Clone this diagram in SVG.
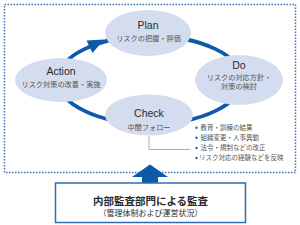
<svg xmlns="http://www.w3.org/2000/svg" width="300" height="225" viewBox="0 0 300 225">
<style>
.node{fill:#d4dcef;}
.t{font-family:"Liberation Sans","Noto Sans CJK JP",sans-serif;fill:#2b2b2b;text-anchor:middle;}
.title{font-size:10.5px;}
.sub{font-size:7.2px;fill:#555;}
.bl{font-family:"Liberation Sans","Noto Sans CJK JP",sans-serif;font-size:6.5px;fill:#555;}
.dot{fill:#2a64ad;}
</style>
<rect x="4.5" y="4.5" width="291" height="168" fill="#fff" stroke="#3d76b3" stroke-width="1.5" stroke-dasharray="1.5 1.5"/>
<g id="connectors">
<ellipse cx="150" cy="80" rx="92" ry="44" fill="none" stroke="#0c5aa8" stroke-width="3.8"/>
<polygon points="104,39.5 86.5,40.5 92.5,53" fill="#0c5aa8"/>
<polyline points="149,136 149,149.5 190,149.5" fill="none" stroke="#9fb3c8" stroke-width="1"/>
<path d="M142,183 V177 H132 L150,164.5 L168,177 H158 V183 Z" fill="#0c5aa8"/>
</g>
<g id="plan">
<ellipse class="node" cx="148" cy="33" rx="43" ry="23"/>
<text class="t title" x="148" y="29">Plan</text>
<text class="t sub" x="148.5" y="41">リスクの把握・評価</text>
</g>
<g id="action">
<ellipse class="node" cx="61" cy="80" rx="46" ry="22"/>
<text class="t title" x="61" y="75">Action</text>
<text class="t sub" x="61" y="86.5">リスク対策の改善・実施</text>
</g>
<g id="do">
<ellipse class="node" cx="239" cy="80" rx="44" ry="25"/>
<text class="t title" x="239" y="69">Do</text>
<text class="t sub" x="239" y="80">リスクの対応方針・</text>
<text class="t sub" x="239" y="88.5">対策の検討</text>
</g>
<g id="check">
<ellipse class="node" cx="149" cy="115" rx="44" ry="20.5"/>
<text class="t title" x="149" y="117">Check</text>
<text class="t sub" x="149" y="129.5">中間フォロー</text>
</g>
<g id="bullets">
<circle class="dot" cx="196.5" cy="127.8" r="1.2"/>
<text class="bl" x="200.5" y="130">教育・訓練の結果</text>
<circle class="dot" cx="196.5" cy="137.8" r="1.2"/>
<text class="bl" x="200.5" y="140">組織変更・人事異動</text>
<circle class="dot" cx="196.5" cy="148" r="1.2"/>
<text class="bl" x="200.5" y="150.2">法令・規制などの改正</text>
<circle class="dot" cx="196.5" cy="158" r="1.2"/>
<text class="bl" x="199" y="160.2">リスク対応の経験などを反映</text>
</g>
<g id="audit">
<rect x="55.5" y="183" width="190" height="39.5" fill="#fff" stroke="#2f6db0" stroke-width="1.5"/>
<text class="t" x="150.5" y="205" font-size="10.5" font-weight="bold" fill="#222">内部監査部門による監査</text>
<text class="t" x="150.5" y="216" font-size="8" fill="#555">（管理体制および運営状況）</text>
</g>
</svg>
